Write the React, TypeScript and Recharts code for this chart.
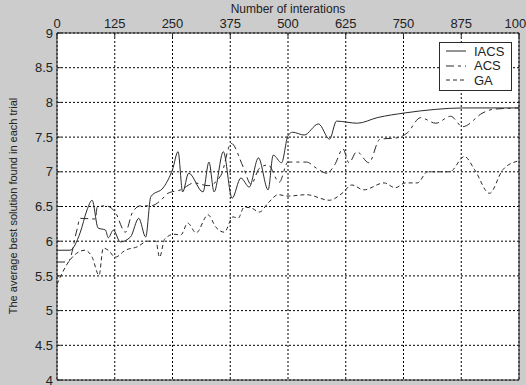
import { CartesianGrid, Legend, Line, LineChart, XAxis, YAxis } from "recharts";

// iterations are on the (top) x axis, average best solution on y
const xTicks = [0, 125, 250, 375, 500, 625, 750, 875, 1000];
const yTicks = [4, 4.5, 5, 5.5, 6, 6.5, 7, 7.5, 8, 8.5, 9];

const iacsIter = [
  0, 28, 50, 65, 76, 89, 105, 111, 122, 137, 159, 177, 192, 203, 231, 250, 262, 272, 285, 316,
  329, 340, 360, 379, 398, 416, 436, 457, 468, 486, 500, 510, 535, 566, 590, 605, 650, 693, 755,
  820, 878, 1000,
];
const iacsValue = [
  5.87, 5.87, 6.12, 6.45, 6.59, 6.19, 6.16, 6.05, 6.16, 5.99, 6.06, 6.33, 6.06, 6.64, 6.78, 7.03,
  7.29, 6.71, 6.98, 6.71, 7.14, 6.71, 7.29, 6.62, 6.91, 6.78, 7.2, 6.74, 7.24, 7.13, 7.52, 7.57,
  7.53, 7.69, 7.47, 7.73, 7.7, 7.78, 7.85, 7.9, 7.92, 7.92,
];

const acsIter = [
  0, 24, 43, 50, 83, 87, 105, 126, 148, 163, 181, 203, 225, 240, 268, 297, 327, 355, 377, 403,
  420, 438, 457, 481, 500, 540, 562, 584, 601, 619, 632, 649, 675, 699, 736, 758, 787, 820, 852,
  878, 922, 943, 1000,
];
const acsValue = [
  5.7, 5.7, 6.16, 6.33, 6.32, 6.49, 6.51, 6.42, 6.13, 6.41, 6.51, 6.51, 6.59, 6.69, 6.74, 6.84,
  6.8, 6.95, 7.41, 7.07, 6.82, 7.05, 7.1, 6.85, 7.14, 7.14, 7.05, 6.98, 7.1, 7.33, 7.13, 7.29,
  7.13, 7.47, 7.49, 7.56, 7.78, 7.7, 7.8, 7.65, 7.85, 7.9, 7.92,
];

const gaIter = [
  0, 28, 61, 76, 91, 100, 111, 126, 148, 174, 196, 214, 222, 233, 253, 268, 283, 301, 327, 344,
  362, 381, 392, 405, 420, 438, 457, 479, 500, 540, 590, 617, 638, 664, 708, 732, 754, 780, 802,
  850, 882, 904, 936, 965, 1000,
];
const gaValue = [
  5.38, 5.73, 5.87, 5.77, 5.51, 5.9, 5.87, 5.77, 5.87, 5.92, 6.0, 6.0, 5.77, 6.03, 6.1, 6.09,
  6.26, 6.12, 6.38, 6.2, 6.13, 6.35, 6.33, 6.49, 6.48, 6.42, 6.55, 6.67, 6.65, 6.67, 6.59, 6.69,
  6.81, 6.74, 6.84, 6.77, 6.84, 6.84, 7.0, 7.0, 7.22, 7.03, 6.69, 7.03, 7.16,
];

type Point = { iteration: number; value: number };

function toPoints(iters: number[], values: number[]): Point[] {
  return iters.map((iteration, i) => ({ iteration, value: values[i] }));
}

const series = [
  { name: "IACS", data: toPoints(iacsIter, iacsValue), dash: undefined as string | undefined },
  { name: "ACS", data: toPoints(acsIter, acsValue), dash: "8 4 3 4" },
  { name: "GA", data: toPoints(gaIter, gaValue), dash: "4 3" },
];

const ink = "#2a2a2a";
const tickFont = { fontSize: 13, fill: "#222" };

function LegendBox() {
  return (
    <div
      style={{
        width: 71,
        height: 46,
        background: "#fff",
        border: `1px solid ${ink}`,
        fontSize: 13,
        color: "#222",
        paddingTop: 1,
        boxSizing: "content-box",
      }}
    >
      {series.map((s) => (
        <div key={s.name} style={{ display: "flex", alignItems: "center", height: 14.5 }}>
          <svg width={34} height={14} style={{ flex: "none" }}>
            <line
              x1={6}
              x2={26}
              y1={7}
              y2={7}
              stroke={ink}
              strokeWidth={1}
              strokeDasharray={s.dash}
            />
          </svg>
          <span>{s.name}</span>
        </div>
      ))}
    </div>
  );
}

export default function App() {
  return (
    <div
      style={{
        position: "absolute",
        left: 0,
        top: 0,
        width: 526,
        height: 385,
        background: "#cccccc",
        fontFamily: "'Liberation Sans', Arial, sans-serif",
        overflow: "hidden",
      }}
    >
      <LineChart width={526} height={385} margin={{ top: 0, right: 0, bottom: 0, left: 0 }}>
        <CartesianGrid
          xAxisId="top"
          yAxisId="left"
          fill="#fff"
          stroke="#000"
          strokeDasharray="2 2"
        />
        <XAxis
          xAxisId="top"
          orientation="top"
          type="number"
          dataKey="iteration"
          domain={[0, 1000]}
          ticks={xTicks}
          height={33}
          tickSize={-4}
          tickMargin={9}
          tick={tickFont}
          stroke={ink}
          interval={0}
          label={{
            content: () => (
              <text x={288} y={9} textAnchor="middle" dominantBaseline="central" fontSize={12} fill="#222">
                Number of interations
              </text>
            ),
          }}
        />
        <XAxis
          xAxisId="bottom"
          orientation="bottom"
          type="number"
          dataKey="iteration"
          domain={[0, 1000]}
          ticks={xTicks}
          height={5}
          tickSize={-4}
          tick={false}
          stroke={ink}
        />
        <YAxis
          yAxisId="left"
          type="number"
          domain={[4, 9]}
          ticks={yTicks}
          width={57}
          tickSize={-4}
          tickMargin={8}
          tick={tickFont}
          stroke={ink}
          interval={0}
          label={{
            content: () => (
              <text
                x={13}
                y={206}
                transform="rotate(-90 13 206)"
                textAnchor="middle"
                dominantBaseline="central"
                fontSize={11}
                fill="#222"
              >
                The average best solution found in each trial
              </text>
            ),
          }}
        />
        <YAxis
          yAxisId="right"
          orientation="right"
          type="number"
          domain={[4, 9]}
          ticks={yTicks}
          width={7}
          tickSize={-4}
          tick={false}
          stroke={ink}
        />
        {series.map((s) => (
          <Line
            key={s.name}
            xAxisId="top"
            yAxisId="left"
            data={s.data}
            dataKey="value"
            name={s.name}
            type="monotone"
            stroke={ink}
            strokeWidth={1}
            strokeDasharray={s.dash}
            dot={false}
            activeDot={false}
            isAnimationActive={false}
          />
        ))}
        <Legend
          layout="horizontal"
          verticalAlign="middle"
          align="center"
          content={() => <LegendBox />}
          wrapperStyle={{ left: 439, top: 42, width: 73, height: 48 }}
        />
      </LineChart>
    </div>
  );
}
